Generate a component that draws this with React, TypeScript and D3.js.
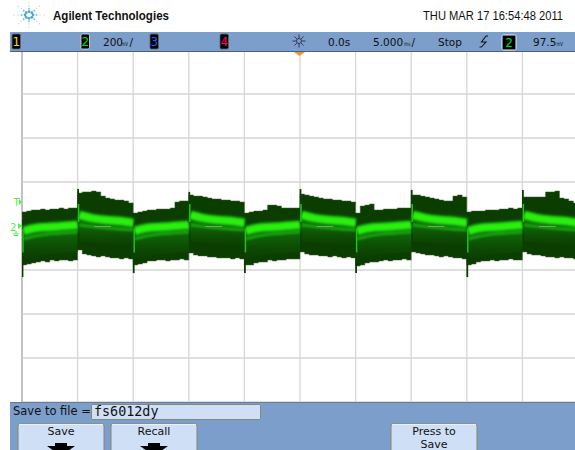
import React from "react";
import * as d3 from "d3";

const headerTitle = "Agilent Technologies";
const timestamp = "THU MAR 17 16:54:48 2011";
const channels = ["1", "2", "3", "4"];
const fileName = "fs6012dy";

// envelope of the trace in mV, 12 samples per horizontal division
const upperMv = [
  [64, 68, 73, 73, 77, 73, 77, 77, 82, 77, 82, 82],
  [150, 155, 155, 159, 155, 136, 127, 123, 118, 118, 114, 105],
  [59, 64, 68, 73, 73, 77, 77, 77, 82, 109, 114, 114],
  [141, 136, 136, 132, 127, 123, 123, 118, 118, 114, 114, 109],
  [59, 64, 68, 68, 73, 95, 95, 91, 82, 82, 82, 82],
  [145, 141, 136, 132, 127, 123, 123, 118, 118, 114, 114, 109],
  [59, 91, 95, 100, 73, 73, 77, 77, 77, 82, 82, 82],
  [141, 141, 136, 132, 127, 123, 118, 114, 114, 136, 141, 132],
  [64, 68, 68, 68, 73, 73, 73, 77, 77, 82, 77, 82],
  [132, 132, 132, 132, 132, 155, 155, 159, 127, 123, 114, 105],
];
const lowerMv = [
  [-177, -173, -168, -164, -159, -164, -155, -159, -155, -155, -159, -155],
  [-109, -127, -132, -136, -141, -136, -141, -145, -145, -150, -145, -150],
  [-177, -173, -168, -159, -159, -155, -155, -159, -155, -155, -150, -155],
  [-123, -132, -136, -136, -141, -141, -145, -145, -145, -150, -145, -150],
  [-177, -177, -168, -164, -164, -155, -159, -155, -155, -150, -150, -150],
  [-118, -127, -132, -132, -136, -136, -141, -136, -141, -145, -141, -145],
  [-182, -177, -168, -164, -164, -159, -155, -159, -155, -155, -150, -155],
  [-118, -123, -127, -132, -132, -136, -141, -136, -141, -145, -145, -150],
  [-177, -173, -164, -159, -159, -155, -159, -155, -155, -150, -155, -155],
  [-118, -127, -132, -132, -136, -141, -141, -145, -141, -145, -145, -150],
];
// spike at the first instant of each division [top, bottom] in mV
const spikeMv = [
  [30, -232], [168, -100], [40, -214], [155, -100], [40, -214],
  [168, -100], [40, -214], [164, -100], [40, -232], [164, -100],
];
// bright edge at the switching instant [from, to] in mV
const edgeMv = [
  [-14, -120], [100, 18], [-14, -120], [100, 18], [-14, -120],
  [100, 18], [-14, -120], [100, 18], [-14, -120], [100, 18],
];
const bandT = [0.03, 0.25, 0.5, 0.75, 1];
const lowBright = [-23, -9, -5, 0, 5];
const lowDim = [-59, -45, -36, -32, -27];
const highBright = [50, 36, 27, 23, 14];
const highDim = [5, -2, -9, -14, -18];
const refDashDiv = [[1.3, 1.6], [3.3, 3.6], [5.3, 5.6], [7.3, 7.6], [9.3, 9.6]];
const gridDivX = [0, 1, 2, 3, 4, 5, 6, 7, 8, 9];
const gridDivY = [-4, -3, -2, -1, 1, 2, 3];
const sparkAngles = d3.range(0, 360, 45);
const sparkRadii = [4, 7.5, 11, 15];

const x = d3.scaleLinear().domain([0, 10]).range([22, 578]);
const y = d3.scaleLinear().domain([-800, 800]).range([402, 50]);
const yDiv = d3.scaleLinear().domain([-4, 4]).range([402, 50]);

const SANS = "'DejaVu Sans', sans-serif";
const ARIAL = "'Liberation Sans', Arial, sans-serif";
const BAR = "#7b9ecb";
const BTN = "#cfe0f6";

type P = [number, number];

const envelope = upperMv.flatMap((seg, s) =>
  seg.map((u, k) => ({ t: s + k / 12, u, l: lowerMv[s][k] }))
);
envelope.push({ t: 10, u: 105, l: -150 });
const envArea = d3
  .area<(typeof envelope)[number]>()
  .x((d) => x(d.t))
  .y0((d) => y(d.l))
  .y1((d) => y(d.u))
  .curve(d3.curveStepAfter);

const bandLine = d3
  .line<P>()
  .x((d) => x(d[0]))
  .y((d) => y(d[1]))
  .curve(d3.curveMonotoneX);

const isLow = (s: number) => s % 2 === 0;
const pts = (s: number, arr: number[]): P[] => arr.map((v, i) => [s + bandT[i], v]);

function Trace() {
  const segs = d3.range(10);
  return (
    <g>
      <defs>
        <linearGradient id="under" x1="0" y1="0" x2="0" y2="1">
          <stop offset="0" stopColor="#0e6c08" />
          <stop offset="0.5" stopColor="#0c4f04" />
          <stop offset="1" stopColor="#0c3d00" />
        </linearGradient>
        <filter id="soft" x="-5%" y="-60%" width="110%" height="220%">
          <feGaussianBlur stdDeviation="0.8" />
        </filter>
        <clipPath id="scr"><rect x="22" y="52" width="553" height="350" /></clipPath>
      </defs>
      <g clipPath="url(#scr)">
        <path d={envArea(envelope) ?? ""} fill="#0c3d00" stroke="#40603a" strokeWidth={0.5} />
        {segs.map((s) => {
          const xa = spikeMv[s];
          return <line key={s} x1={x(s) + 0.5} x2={x(s) + 0.5} y1={y(xa[0])} y2={y(xa[1])} stroke="#0c3d00" strokeWidth={1.8} />;
        })}
        {segs.map((s) => {
          const bright = pts(s, isLow(s) ? lowBright : highBright);
          const dim = pts(s, isLow(s) ? lowDim : highDim);
          const d0 = d3.area<P>().x((d) => x(d[0])).y0((d) => y(d[1]) + (isLow(s) ? 20 : 16)).y1((d) => y(d[1])).curve(d3.curveMonotoneX);
          const between = d3.area<[number, number, number]>().x((d) => x(d[0])).y0((d) => y(d[2])).y1((d) => y(d[1])).curve(d3.curveMonotoneX);
          return (
            <g key={s}>
              <path d={d0(dim) ?? ""} fill="url(#under)" />
              <path d={between(bright.map((b, i) => [b[0], b[1], dim[i][1]])) ?? ""} fill="#0e6c08" />
              <g filter="url(#soft)" fill="none">
                <path d={bandLine(bright) ?? ""} stroke="#12a00a" strokeWidth={10} />
                <path d={bandLine(bright) ?? ""} stroke="#2cf010" strokeWidth={6.5} />
                <path d={bandLine(dim) ?? ""} stroke="#1da812" strokeWidth={2.6} />
              </g>
              <line x1={x(s) + 1} x2={x(s) + 1} y1={y(edgeMv[s][0])} y2={y(edgeMv[s][1])} stroke="#22c410" strokeWidth={1.5} />
            </g>
          );
        })}
        {refDashDiv.map((r) => (
          <line key={r[0]} x1={x(r[0])} x2={x(r[1])} y1={y(0) + 0.5} y2={y(0) + 0.5} stroke="#7f9a78" strokeWidth={1} />
        ))}
      </g>
    </g>
  );
}

function Logo() {
  return (
    <g>
      {sparkAngles.flatMap((a) =>
        sparkRadii.map((r) => (
          <circle
            key={`${a}-${r}`}
            cx={29 + r * Math.cos((a * Math.PI) / 180)}
            cy={15 + r * Math.sin((a * Math.PI) / 180) * 0.82}
            r={r === 4 ? 1.4 : r === 7.5 ? 1 : 0.7}
            fill={r === 4 ? "#4aa8c8" : r === 7.5 ? "#7cc4da" : "#b4dce8"}
          />
        ))
      )}
      <text x={53} y={20} fontFamily={ARIAL} fontWeight="bold" fontSize={12.5} textLength={116} lengthAdjust="spacingAndGlyphs" fill="#111">{headerTitle}</text>
    </g>
  );
}

function Unit({ xp, label }: { xp: number; label: string }) {
  return <text x={xp} y={46} fontFamily={SANS} fontSize={6} textLength={6.5} lengthAdjust="spacingAndGlyphs" fill="#111">{label}</text>;
}

function TopBar() {
  const boxX = [12, 81, 150, 220];
  const colors = ["#f0e000", "#00e000", "#2060ff", "#ff0070"];
  const t = { fontFamily: SANS, fontSize: 10.5, fill: "#111" };
  return (
    <g>
      <rect x={10} y={32} width={565} height={20} fill={BAR} />
      <line x1={10} x2={575} y1={51.5} y2={51.5} stroke="#4a5f80" />
      {channels.map((c, i) => (
        <g key={c}>
          <rect x={boxX[i]} y={34} width={8.5} height={15} rx={1.5} fill="#000" stroke={i === 1 ? "#dde" : "#666"} strokeWidth={0.8} />
          <text x={boxX[i] + 4.2} y={46} textAnchor="middle" fontFamily={SANS} fontSize={12} fill={colors[i]}>{c}</text>
        </g>
      ))}
      <text x={103} y={46} {...t}>200</text>
      <Unit xp={121.5} label="mV" />
      <text x={129.5} y={46} {...t}>/</text>
      <g stroke="#223" strokeWidth={0.8}>
        {sparkAngles.map((a) => (
          <line key={a} x1={299 + 3 * Math.cos((a * Math.PI) / 180)} y1={41 + 3 * Math.sin((a * Math.PI) / 180)} x2={299 + 6.5 * Math.cos((a * Math.PI) / 180)} y2={41 + 6.5 * Math.sin((a * Math.PI) / 180)} />
        ))}
      </g>
      <circle cx={299} cy={41} r={2.5} fill="none" stroke="#223" strokeWidth={0.8} />
      <text x={328} y={46} {...t}>0.0s</text>
      <text x={373} y={46} {...t}>5.000</text>
      <Unit xp={404} label="ms" />
      <text x={411.5} y={46} {...t}>/</text>
      <text x={438} y={46} {...t}>Stop</text>
      <path d="M486 36 L481.5 42 L486 42 L481.5 47 M486 36 h2 M479.5 47 h2" stroke="#111" strokeWidth={1.1} fill="none" />
      <rect x={502} y={35} width={14} height={15} rx={1.5} fill="#000" stroke="#e8eef8" />
      <text x={509} y={47} textAnchor="middle" fontFamily={SANS} fontSize={12} fill="#00e000">2</text>
      <text x={533} y={46} {...t}>97.5</text>
      <Unit xp={556.5} label="mV" />
    </g>
  );
}

function Grid() {
  return (
    <g>
      {gridDivX.map((d) => (
        <line key={d} x1={x(d)} x2={x(d)} y1={52} y2={402} stroke={d === 0 ? "#a8a8a8" : "#d6d6d6"} strokeWidth={d === 0 ? 1.4 : 1.3} />
      ))}
      {gridDivY.map((d) => (
        <line key={d} x1={22} x2={575} y1={yDiv(d)} y2={yDiv(d)} stroke="#d6d6d6" strokeWidth={1.3} />
      ))}
    </g>
  );
}

function Markers() {
  return (
    <g fill="#55f040" stroke="none">
      <path d="M294 52 H305 L299.5 56 Z" fill="#f0962a" />
      <text x={13.5} y={206} fontFamily={SANS} fontSize={10} fill="#55f040">T</text>
      <path d="M19 199 L22 202 L19 205 Z" />
      <text x={10} y={231} fontFamily={SANS} fontSize={10} fill="#55f040">2</text>
      <path d="M18 223 L22 226 L18 229 Z" />
      <path d="M16 231 V234 M13 234 H19 M14 235.5 H18" stroke="#55f040" strokeWidth={1} fill="none" />
    </g>
  );
}

function SoftKey({ xp, w, lines, arrow }: { xp: number; w: number; lines: string[]; arrow: boolean }) {
  const cx = xp + w / 2;
  return (
    <g>
      <rect x={xp} y={424} width={w} height={32} rx={2} fill={BTN} stroke="#8a8470" strokeWidth={1} />
      <line x1={xp + 1} x2={xp + w - 1} y1={424.5} y2={424.5} stroke="#e8f0fb" />
      {lines.map((l, i) => (
        <text key={l} x={cx} y={435 + i * 13} textAnchor="middle" fontFamily={SANS} fontSize={11} fill="#111">{l}</text>
      ))}
      {arrow && <path d={`M${cx - 6} 443 H${cx + 6} V446 H${cx + 14} L${cx} 456 L${cx - 14} 446 H${cx - 6} Z`} fill="#000" />}
    </g>
  );
}

function BottomBar() {
  return (
    <g>
      <rect x={10} y={402} width={565} height={48} fill={BAR} />
      <line x1={10} x2={575} y1={402.5} y2={402.5} stroke="#6a7a90" />
      <text x={13} y={415} fontFamily={SANS} fontSize={11.5} fill="#111">Save to file =</text>
      <rect x={91.5} y={404.5} width={169} height={15} rx={1} fill={BTN} stroke="#7a7a68" strokeWidth={0.8} />
      <text x={94} y={416} fontFamily="'DejaVu Sans Mono', monospace" fontSize={13.4} fill="#111">{fileName}</text>
      <SoftKey xp={18} w={86} lines={["Save"]} arrow />
      <SoftKey xp={111} w={86} lines={["Recall"]} arrow />
      <SoftKey xp={391} w={86} lines={["Press to", "Save"]} arrow={false} />
    </g>
  );
}

export default function App() {
  return (
    <svg width={575} height={450} style={{ position: "absolute", left: 0, top: 0, background: "#fff" }}>
      <Logo />
      <text x={423} y={20} fontFamily={ARIAL} fontSize={12} textLength={140} lengthAdjust="spacingAndGlyphs" fill="#111">{timestamp}</text>
      <Grid />
      <Trace />
      <TopBar />
      <BottomBar />
      <Markers />
    </svg>
  );
}
